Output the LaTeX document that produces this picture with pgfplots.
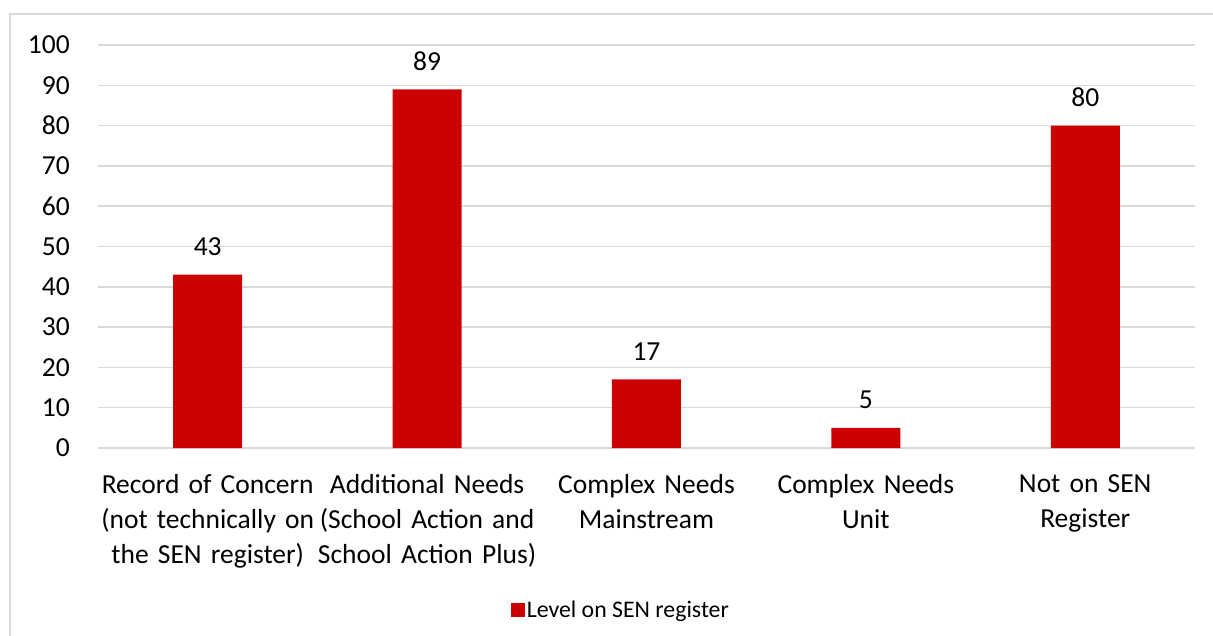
\documentclass[border=0pt]{standalone}
\usepackage{pgfplots}
\pgfplotsset{compat=1.18}
\usepackage{fontspec}
\setmainfont{Carlito}
\definecolor{barred}{HTML}{CC0000}
\definecolor{gridgray}{HTML}{D9D9D9}
\newcommand{\lblfont}{\fontsize{27.5}{35}\selectfont}
\newcommand{\legfont}{\fontsize{23.8}{28}\selectfont}
\begin{document}
\begin{tikzpicture}
% chart frame
\draw[gridgray, line width=1.2pt] (10pt,-20pt) -- (10pt,621pt) -- (1240pt,621pt);
\begin{axis}[
  at={(98pt,187pt)}, anchor=south west,
  scale only axis,
  width=1097pt, height=403pt,
  ymin=0, ymax=100,
  xmin=-0.5, xmax=4.5,
  ytick={0,10,...,100},
  xtick={0,1,2,3,4},
  xticklabels={
    {Record of Concern\\(not technically on\\the SEN register)},
    {Additional Needs\\(School Action and\\School Action Plus)},
    {Complex Needs\\Mainstream},
    {Complex Needs\\Unit},
    {Not on SEN\\Register}},
  xticklabel style={font=\lblfont, align=center, text width=230pt, inner sep=0pt, yshift=-26pt},
  yticklabel style={font=\lblfont, anchor=east, inner sep=0pt, xshift=-28pt},
  /pgf/number format/assume math mode=true,
  major tick length=0pt,
  axis line style={draw=none},
  ymajorgrids,
  major grid style={gridgray, line width=1.5pt},
  ybar, bar width=69pt,
  nodes near coords,
  every node near coord/.append style={font=\lblfont, anchor=south, inner sep=0pt, yshift=18.5pt, text=black},
  legend style={at={(0.4768,-0.402)}, anchor=center, draw=none, font=\legfont,
    legend cell align=left, inner sep=0pt},
  legend image code/.code={\draw[#1, draw=none] (0pt,-6.8pt) rectangle (13.6pt,6.8pt);},
]
\addplot[fill=barred, draw=none] coordinates {(0,43) (1,89) (2,17) (3,5) (4,80)};
\addlegendentry{Level on SEN register}
\end{axis}
\pgfresetboundingbox
\path[use as bounding box] (0pt,0pt) rectangle (1213pt,635pt);
\end{tikzpicture}
\end{document}
